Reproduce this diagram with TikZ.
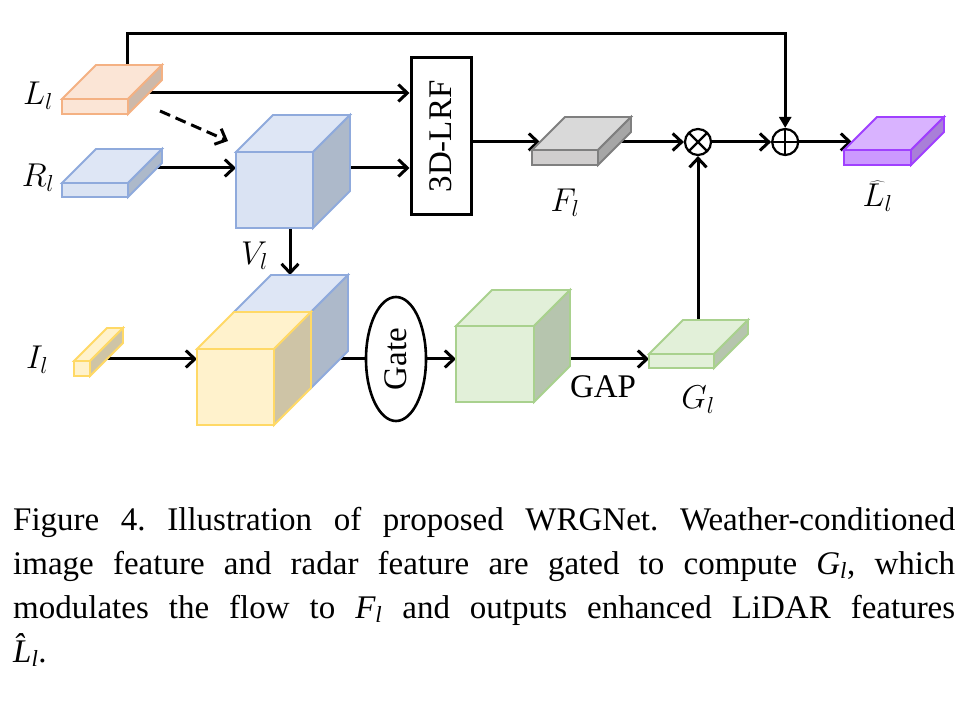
\RequirePackage{fix-cm}
\documentclass[tikz,border=0pt]{standalone}
\usepackage{fontspec}
\setmainfont{Liberation Serif}
\usepackage{graphicx}
\usetikzlibrary{positioning, calc, arrows.meta, shapes.geometric}

\pgfdeclarelayer{bg}
\pgfsetlayers{bg,main}

\definecolor{orgfront}{HTML}{FBE5D6}
\definecolor{orgtop}{HTML}{FBE5D6}
\definecolor{orgside}{HTML}{CDB9AA}
\definecolor{orgline}{HTML}{F4B183}
\definecolor{bluefront}{HTML}{DAE3F3}
\definecolor{bluetop}{HTML}{DEE6F5}
\definecolor{blueside}{HTML}{ADB9CA}
\definecolor{blueline}{HTML}{8FAADC}
\definecolor{grayfront}{HTML}{D0CECE}
\definecolor{graytop}{HTML}{D9D9D9}
\definecolor{grayside}{HTML}{A6A6A6}
\definecolor{grayline}{HTML}{7F7F7F}
\definecolor{purpfront}{HTML}{CC99FF}
\definecolor{purptop}{HTML}{D9B3FF}
\definecolor{purpside}{HTML}{A97FD8}
\definecolor{purpline}{HTML}{A040FF}
\definecolor{yelfront}{HTML}{FFF2CC}
\definecolor{yeltop}{HTML}{FFF2CC}
\definecolor{yelside}{HTML}{CEC4A6}
\definecolor{yelline}{HTML}{FFD966}
\definecolor{grnfront}{HTML}{E2F0D9}
\definecolor{grntop}{HTML}{E2F0D9}
\definecolor{grnside}{HTML}{B6C5AE}
\definecolor{grnline}{HTML}{A9D18E}

\tikzset{
	arr/.style={-{Straight Barb[length=9pt,width=17pt]}, line width=3pt},
	tri/.style={-{Triangle[length=11pt,width=12pt]}, line width=3pt},
	feat/.style={line width=1.8pt, inner sep=0pt, outer sep=0pt},
	lbl/.style={inner sep=1pt, font=\fontsize{33}{36}\selectfont},
	txt/.style={font=\fontsize{33}{36}\selectfont},
	op/.style={circle, draw, line width=2.2pt, fill=white, minimum size=26pt, inner sep=0pt},
	times/.style={op, path picture={
		\draw[line width=2.2pt] (path picture bounding box.north west) -- (path picture bounding box.south east)
		(path picture bounding box.north east) -- (path picture bounding box.south west);}},
	plus/.style={op, path picture={
		\draw[line width=2.2pt] (path picture bounding box.north) -- (path picture bounding box.south)
		(path picture bounding box.east) -- (path picture bounding box.west);}},
	capline/.style={anchor=base west, inner sep=0pt, font=\fontsize{33}{44}\selectfont\frenchspacing}
}

% feature block: name, centre of front face, width, height, depth, colour
\newcommand{\featbox}[6]{%
	\node[feat, draw=#6line, fill=#6front, minimum width=#3, minimum height=#4] (#1) at (#2) {};
	\filldraw[feat, draw=#6line, fill=#6top] (#1.north west) -- ++(#5,#5) -- ++(#3,0) -- (#1.north east) -- cycle;
	\filldraw[feat, draw=#6line, fill=#6side] (#1.north east) -- ++(#5,#5) -- ++(0,-#4) -- (#1.south east) -- cycle;
	\coordinate (#1-back) at ($(#1.north east)+(#5,#5)$);
}
% italic symbol with subscript l, as set in the caption
\newcommand{\capsym}[1]{{\itshape #1\textsubscript{l}}}

\begin{document}
\begin{tikzpicture}[x=1pt, y=1pt]
	\useasboundingbox (0,0) rectangle (973,715);

	% feature blocks
	\featbox{Ll}{95,608.5}{66}{15}{34}{org}
	\featbox{Rl}{95,525}{66}{14}{34}{blue}
	\featbox{V}{274.5,525}{77}{76}{37}{blue}
	\featbox{Il}{82,346.5}{16}{15}{33}{yel}
	\featbox{vb}{272.5,365}{77}{76}{37}{blue}
	\featbox{yel}{235.5,328}{77}{76}{37}{yel}
	\featbox{grn}{495,351}{78}{76}{36}{grn}
	\featbox{Gl}{681.5,354}{65}{14}{34}{grn}
	\featbox{Fl}{565,557.5}{66}{15}{33}{gray}
	\featbox{Lh}{877.5,557.5}{67}{15}{33}{purp}

	\node[draw, line width=3pt, minimum width=60pt, minimum height=157pt, inner sep=0pt, fill=white, txt] (lrf) at (441,578.5) {\rotatebox{90}{3D-LRF}};
	\node[ellipse, draw, line width=2.6pt, minimum width=60pt, minimum height=124pt, inner sep=0pt, fill=white, txt] (gate) at (396,356) {\rotatebox{90}{Gate}};
	\node[times] (mul) at (698,573) {};
	\node[plus, right=59pt of mul] (add) {};

	% labels
	\node[lbl] (Ll-lab) at ($(Ll.center)+(-57,10.5)$) {$L_l$};
	\node[lbl] (Rl-lab) at ($(Rl.center)+(-57,12)$) {$R_l$};
	\node[lbl] (Il-lab) at ($(Il.center)+(-45,8.5)$) {$I_l$};
	\node[lbl] (V-lab) at ($(V.south)+(-20,-28)$) {$V_l$};
	\node[lbl] (Fl-lab) at ($(Fl.center)+(0,-45.5)$) {$F_l$};
	\node[lbl] (Lh-lab) at ($(Lh.center)+(0,-38.5)$) {$\widehat{L_l}$};
	\node[lbl] (Gl-lab) at ($(Gl.center)+(16.5,-39)$) {$G_l$};
	\node[txt] (gap) at ($(grn-back |- gate.east)+(33,-28)$) {GAP};

	% connectors
	\begin{pgfonlayer}{bg}
		\fill[white] (0,0) rectangle (973,715);
		\draw[arr] ([yshift=13.5]Ll.center) coordinate (la) -- (la -| lrf.west);
		\draw[arr] ([yshift=22]Rl.center) coordinate (ra) -- (ra -| V.west);
		\draw[arr] (ra -| V.center) -- (ra -| lrf.west);
		\draw[arr, dashed, dash pattern=on 11pt off 6pt] ($(Ll.south east)+(32,3)$) -- ($(V.north west)+(-8,11)$);
		\draw[arr] ([xshift=15.5]V.center) -- ([xshift=15.5]V.center |- vb-back);
		\draw[arr] ([yshift=9.5]Il.center) coordinate (ia) -- (ia -| yel.west);
		\draw[line width=3pt] (gate.west -| vb.center) -- (gate.west);
		\draw[arr] (gate.east) -- (gate.east -| grn.west);
		\draw[arr] (gate.east -| grn.center) -- (gate.east -| Gl.west);
		\draw[arr] (mul |- Gl.center) -- (mul.south);
		\draw[arr] (lrf.east |- mul) -- ($(Fl.north west)+(8,8)$);
		\draw[arr] (mul -| Fl.center) -- (mul.west);
		\draw[arr] (mul.east) -- (add.west);
		\draw[arr] (add.east) -- ($(Lh.north west)+(8,8)$);
		\draw[tri] ([xshift=32]Ll.center) -- ++(0,72.5) -| (add.north);
	\end{pgfonlayer}

	% caption
	\node[capline] (cap1) at (13,185) {\makebox[942pt][s]{Figure 4. Illustration of proposed WRGNet. Weather-conditioned}};
	\node[capline] (cap2) at ([yshift=-44]cap1.base west) {\makebox[942pt][s]{image feature and radar feature are gated to compute \capsym{G}, which}};
	\node[capline] (cap3) at ([yshift=-44]cap2.base west) {\makebox[942pt][s]{modulates the flow to \capsym{F} and outputs enhanced LiDAR features}};
	\node[capline] (cap4) at ([yshift=-44]cap3.base west) {\capsym{\^L}.};
\end{tikzpicture}
\end{document}
